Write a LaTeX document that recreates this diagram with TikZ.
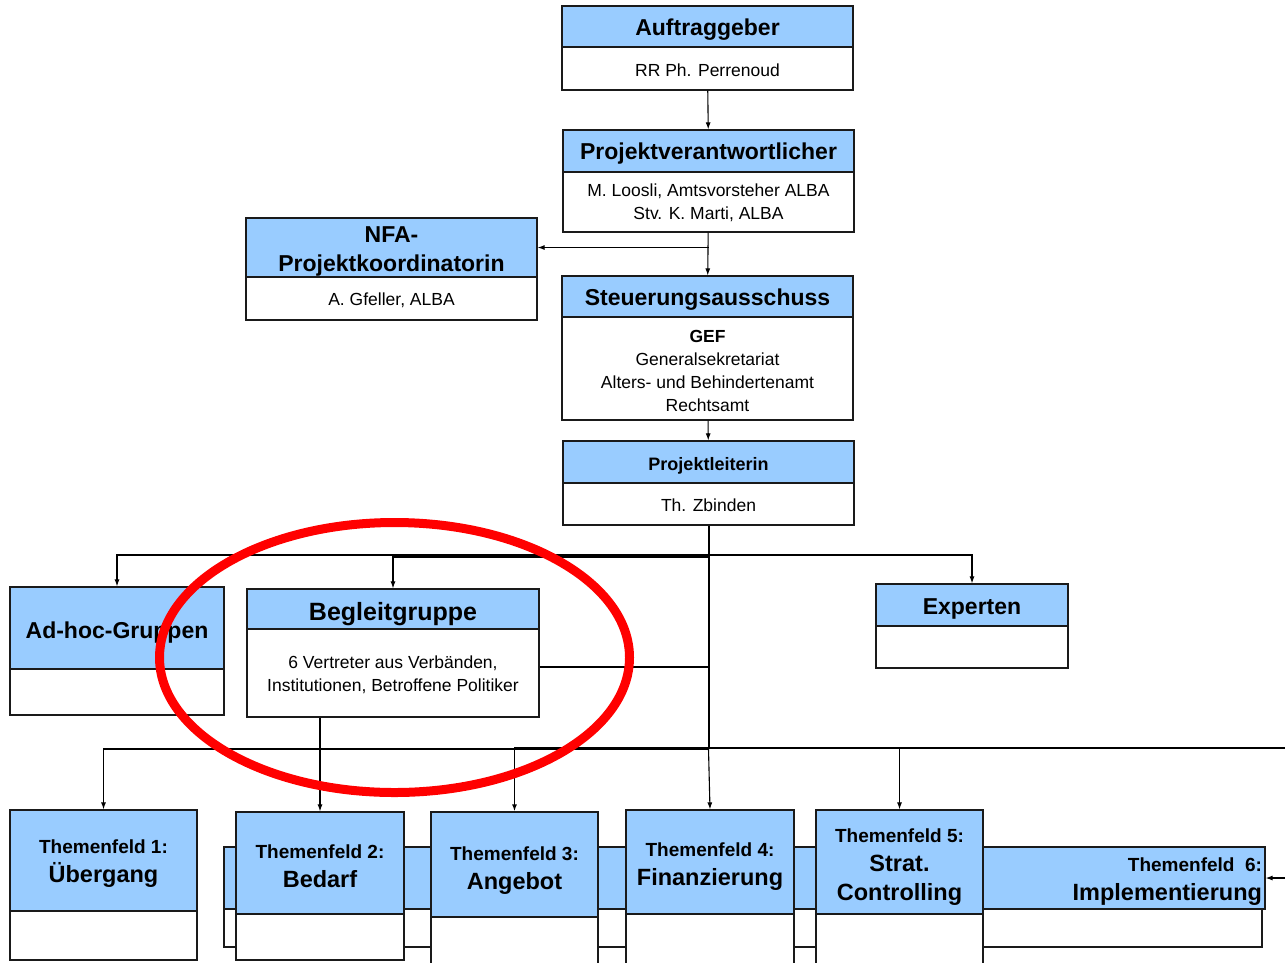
\documentclass[tikz,border=0pt]{standalone}
\usepackage{fontspec}
\setmainfont{Liberation Sans}
\usetikzlibrary{arrows.meta,calc}
\definecolor{kopfblau}{HTML}{99CCFF}
\definecolor{rahmen}{HTML}{1A1A1A}

\begin{document}
\begin{tikzpicture}[x=1pt, y=-1pt,
    kopf/.style={draw=rahmen, line width=1.2pt, fill=kopfblau, inner sep=0pt, font=\bfseries\fontsize{23}{29}\selectfont},
    rumpf/.style={draw=rahmen, line width=1.2pt, fill=white, inner sep=0pt, font=\fontsize{17.5}{23.3}\selectfont},
    feld/.style={kopf, font=\bfseries\fontsize{23.5}{29}\selectfont, align=flush center},
    lage/.style={text height=#1, text depth=0pt},
    tief/.style={text height=0pt, text depth=#1},
    pfeil/.style={-{Latex[length=7pt,width=5pt]}, line width=1.1pt},
    linie/.style={line width=1.1pt}]
    \useasboundingbox (0,0) rectangle (1285,962);

    % Leitung
    \node[kopf, lage=18.4, minimum width=291, minimum height=41] (auftrag) at (707.5,26.5) {Auftraggeber};
    \node[rumpf, lage=15, minimum width=291, minimum height=43] (auftragtext) at (707.5,68.5) {RR Ph. Perrenoud};
    \node[kopf, lage=16.6, minimum width=291, minimum height=42] (verantw) at (708.5,151) {Projektverantwortlicher};
    \node[rumpf, tief=12, text width=285, align=flush center, minimum width=291, minimum height=60] (verantwtext) at (708.5,202) {M. Loosli, Amtsvorsteher ALBA\\Stv. K. Marti, ALBA};
    \node[kopf, tief=10.4, text width=285, align=flush center, minimum width=291, minimum height=59] (nfa) at (391.5,247.5) {NFA-\\Projektkoordinatorin};
    \node[rumpf, lage=14.4, minimum width=291, minimum height=43] (nfatext) at (391.5,298.5) {A. Gfeller, ALBA};
    \node[kopf, lage=17, minimum width=291, minimum height=41] (steuer) at (707.5,296.5) {Steuerungsausschuss};
    \node[rumpf, tief=53, text width=285, align=flush center, minimum width=291, minimum height=103] (steuertext) at (707.5,368.5) {\textbf{GEF}\\Generalsekretariat\\Alters- und Behindertenamt\\Rechtsamt};
    \node[kopf, lage=16, font=\bfseries\fontsize{18}{22}\selectfont, minimum width=291, minimum height=42] (leiterin) at (708.5,462) {Projektleiterin};
    \node[rumpf, lage=14, minimum width=291, minimum height=42] (leiterintext) at (708.5,504) {Th. Zbinden};

    % Gruppen
    \node[kopf, lage=20.6, minimum width=214, minimum height=82] (adhoc) at (117,628) {Ad-hoc-Gruppen};
    \node[rumpf, minimum width=214, minimum height=46] (adhoctext) at (117,692) {};
    \node[kopf, lage=22, font=\bfseries\fontsize{25}{29}\selectfont, minimum width=292, minimum height=40] (begleit) at (393,609) {Begleitgruppe};
    \node[rumpf, tief=9.4, text width=286, align=flush center, minimum width=292, minimum height=88] (begleittext) at (393,673) {6 Vertreter aus Verbänden,\\Institutionen, Betroffene Politiker};
    \node[kopf, lage=18, minimum width=192, minimum height=42] (experten) at (972,605) {Experten};
    \node[rumpf, minimum width=192, minimum height=42] (expertentext) at (972,647) {};

    % Themenfelder
    \node[feld, tief=12.6, minimum width=1041, minimum height=62, text width=1035, align=flush right] (feld6) at (744.5,878) {{\fontsize{19}{29}\selectfont Themenfeld~ 6:}\\Implementierung};
    \node[rumpf, minimum width=1038, minimum height=38] (feld6text) at (743,928) {};
    \node[feld, tief=14.4, text width=183, minimum width=187, minimum height=101] (feld1) at (103.5,860.5) {{\fontsize{19}{29}\selectfont Themenfeld 1:}\\Übergang};
    \node[rumpf, minimum width=187, minimum height=49] (feld1text) at (103.5,935.5) {};
    \node[feld, tief=9.4, text width=164, minimum width=168, minimum height=102] (feld2) at (320,863) {{\fontsize{19}{29}\selectfont Themenfeld 2:}\\Bedarf};
    \node[rumpf, minimum width=168, minimum height=46] (feld2text) at (320,937) {};
    \node[feld, tief=9, text width=163, minimum width=167, minimum height=105] (feld3) at (514.5,864.5) {{\fontsize{19}{29}\selectfont Themenfeld 3:}\\Angebot};
    \node[rumpf, minimum width=167, minimum height=48] (feld3text) at (514.5,941) {};
    \node[feld, tief=10.6, text width=164, minimum width=168, minimum height=104] (feld4) at (710,862) {{\fontsize{19}{29}\selectfont Themenfeld 4:}\\Finanzierung};
    \node[rumpf, minimum width=168, minimum height=51] (feld4text) at (710,939.5) {};
    \node[feld, tief=38.6, text width=163, minimum width=167, minimum height=104] (feld5) at (899.5,862) {{\fontsize{19}{29}\selectfont Themenfeld 5:}\\Strat.\\Controlling};
    \node[rumpf, minimum width=167, minimum height=51] (feld5text) at (899.5,939.5) {};

    \coordinate (oben) at (708.5,555);
    \coordinate (unten) at (708.5,749);
    \coordinate (rand) at (1300,878);

    \draw[pfeil] (auftragtext) -- (verantw);
    \draw[pfeil] (verantwtext) -- (steuer);
    \draw[pfeil] (verantwtext.south |- nfa.east) -- (nfa.east);
    \draw[pfeil] (steuertext) -- (leiterin);
    \draw[line width=2pt] (leiterintext.south) -- (unten);
    \draw[pfeil] (oben) -| (adhoc.north);
    \draw[pfeil] ($(oben)+(0,2)$) -| (begleit.north);
    \draw[pfeil] (oben) -| (experten.north);
    \draw[linie] ($(begleittext.east)+(0,-6)$) -- ($(begleittext.east -| oben)+(0,-6)$);
    \draw[pfeil] (begleittext.south -| feld2.north) -- (feld2.north);
    \draw[pfeil] (unten) -| (feld1.north);
    \draw[pfeil, line width=1.6pt] ($(unten)+(0,-1)$) -| (feld3.north);
    \draw[pfeil] (unten) -- (feld4.north);
    \draw[pfeil] ($(unten)+(0,-1)$) -| (feld5.north);
    \draw[pfeil] ($(unten)+(0,-1)$) -| (rand) -- (feld6.east);

    \draw[red, line width=9pt] (394.5,657.5) ellipse [x radius=235, y radius=135];
\end{tikzpicture}
\end{document}
